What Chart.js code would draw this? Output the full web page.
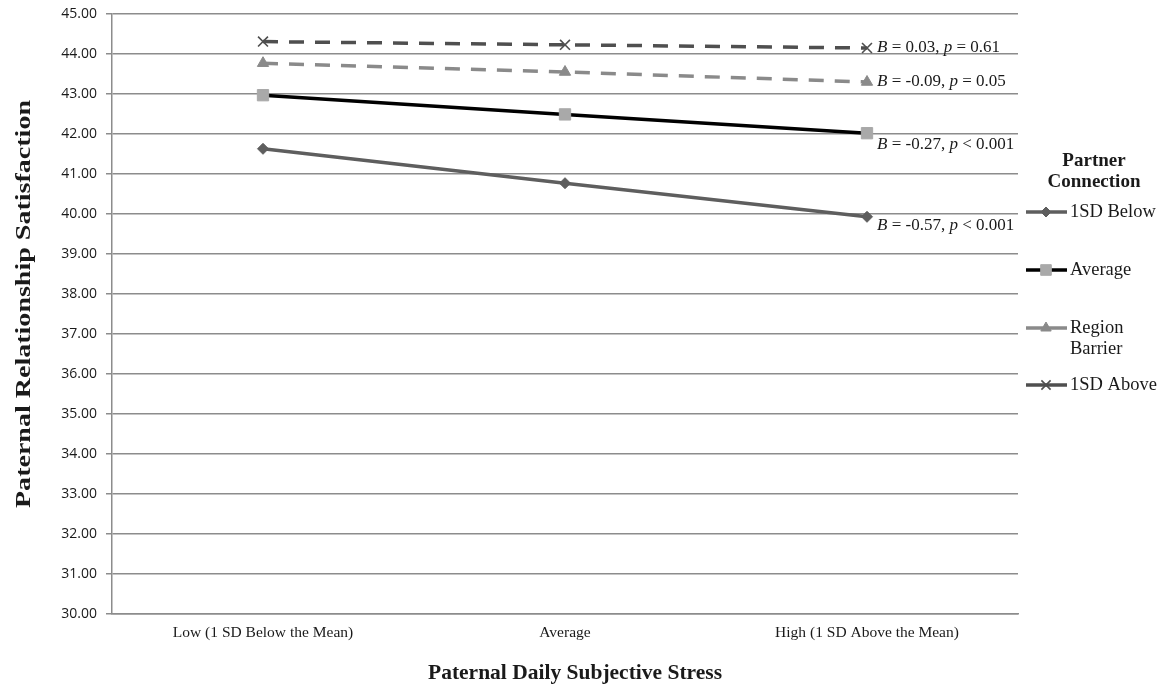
<!DOCTYPE html>
<html lang="en">
<head>
    <meta charset="UTF-8">
    <title>Paternal Relationship Satisfaction</title>
    <script src="https://cdn.jsdelivr.net/npm/chart.js"></script>
    <style>
        html, body { margin: 0; padding: 0; background: #fff; }
        #wrap { width: 1171px; height: 688px; position: relative; }
    </style>
</head>
<body>
<div id="wrap"><canvas id="chart" width="1171" height="688"></canvas></div>
<script>
    // data
    const stressLevels = ['Low (1 SD Below the Mean)', 'Average', 'High (1 SD Above the Mean)'];
    const sdBelow = [41.63, 40.77, 39.93];
    const average = [42.97, 42.49, 42.02];
    const regionBarrier = [43.77, 43.55, 43.30];
    const sdAbove = [44.31, 44.23, 44.15];
    const yTicks = [30, 31, 32, 33, 34, 35, 36, 37, 38, 39, 40, 41, 42, 43, 44, 45];
    const slopeLabels = [
        ['0.03', '= 0.61'],
        ['-0.09', '= 0.05'],
        ['-0.27', '< 0.001'],
        ['-0.57', '< 0.001']
    ];

    const serif = '"Liberation Serif", "DejaVu Serif", serif';
    const sans = '"Open Sans", "Liberation Sans", sans-serif';

    const seriesDefs = [
        { label: '1SD Below', data: sdBelow, color: '#5e5e5e', dash: [], point: 'rectRot', pointColor: '#5e5e5e', radius: 5.5 },
        { label: 'Average', data: average, color: '#000000', dash: [], point: 'rect', pointColor: '#a9a9a9', radius: 8 },
        { label: 'Region Barrier', data: regionBarrier, color: '#8a8a8a', dash: [15, 11], point: 'triangle', pointColor: '#8a8a8a', radius: 6.5 },
        { label: '1SD Above', data: sdAbove, color: '#4f4f4f', dash: [15, 11], point: 'crossRot', pointColor: '#4f4f4f', radius: 7 }
    ];

    // slope annotations next to the "High" points
    const slopePlugin = {
        id: 'slopes',
        afterDatasetsDraw(chart) {
            const ctx = chart.ctx;
            const x = chart.scales.x;
            const y = chart.scales.y;
            const order = [3, 2, 1, 0];
            const shifts = [0, 0, 11, 9];
            ctx.save();
            ctx.fillStyle = '#1a1a1a';
            ctx.textBaseline = 'middle';
            order.forEach((di, i) => {
                const ds = chart.data.datasets[di];
                const px = x.getPixelForValue(2) + 10;
                const py = y.getPixelForValue(ds.data[2]) + shifts[i];
                const parts = [
                    ['italic 17px ' + serif, 'B'],
                    ['17px ' + serif, ' = ' + slopeLabels[i][0] + ', '],
                    ['italic 17px ' + serif, 'p'],
                    ['17px ' + serif, ' ' + slopeLabels[i][1]]
                ];
                let cx = px;
                parts.forEach(p => {
                    ctx.font = p[0];
                    ctx.fillText(p[1], cx, py);
                    cx += ctx.measureText(p[1]).width;
                });
            });
            ctx.restore();
        }
    };

    // legend with line-marker-line samples, plus both axis titles
    const sidePlugin = {
        id: 'sideLegend',
        afterDraw(chart) {
            const ctx = chart.ctx;
            ctx.save();
            ctx.fillStyle = '#1a1a1a';
            ctx.textAlign = 'center';
            ctx.textBaseline = 'middle';
            ctx.font = 'bold 19px ' + serif;
            ctx.fillText('Partner', 1094, 161);
            ctx.fillText('Connection', 1094, 182);
            const rows = [212, 270, 328, 385];
            chart.data.datasets.forEach((ds, i) => {
                const yy = rows[i];
                ctx.strokeStyle = ds.borderColor;
                ctx.lineWidth = 3.5;
                ctx.setLineDash([]);
                ctx.beginPath();
                ctx.moveTo(1026, yy);
                ctx.lineTo(1067, yy);
                ctx.stroke();
                ctx.fillStyle = ds.pointBackgroundColor;
                ctx.strokeStyle = ds.pointBorderColor;
                ctx.lineWidth = ds.pointBorderWidth;
                Chart.helpers.drawPoint(ctx, {
                    pointStyle: ds.pointStyle,
                    radius: ds.pointRadius - 0.5,
                    rotation: 0,
                    borderWidth: ds.pointBorderWidth
                }, 1046, yy);
                ctx.fillStyle = '#1a1a1a';
                ctx.textAlign = 'left';
                ctx.font = '18.5px ' + serif;
                if (ds.label === 'Region Barrier') {
                    ctx.fillText('Region', 1070, yy);
                    ctx.fillText('Barrier', 1070, yy + 21);
                } else {
                    ctx.fillText(ds.label, 1070, yy);
                }
            });

            // x axis title
            ctx.textAlign = 'center';
            ctx.font = 'bold 21.5px ' + serif;
            ctx.fillText('Paternal Daily Subjective Stress', 575, 673);

            // y axis title, drawn longer as in the original
            const title = 'Paternal Relationship Satisfaction';
            ctx.font = 'bold 21px ' + serif;
            const w = ctx.measureText(title).width;
            ctx.translate(25, 304);
            ctx.rotate(-Math.PI / 2);
            ctx.scale(408 / w, 1);
            ctx.fillText(title, 0, 0);
            ctx.restore();
        }
    };

    const datasets = seriesDefs.map(s => ({
        label: s.label,
        data: s.data,
        borderColor: s.color,
        borderWidth: 3.5,
        borderDash: s.dash,
        tension: 0,
        pointStyle: s.point,
        pointRadius: s.radius,
        pointHoverRadius: s.radius,
        pointBackgroundColor: s.pointColor,
        pointBorderColor: s.pointColor,
        pointBorderWidth: s.point === 'crossRot' ? 1.6 : 1
    }));

    new Chart(document.getElementById('chart'), {
        type: 'line',
        data: { labels: stressLevels, datasets: datasets },
        options: {
            responsive: false,
            animation: false,
            layout: { padding: { left: 0, top: 14, right: 153, bottom: 0 } },
            plugins: {
                legend: { display: false },
                tooltip: { enabled: false }
            },
            scales: {
                x: {
                    offset: true,
                    grid: { display: false, drawTicks: false },
                    border: { color: '#8c8c8c', width: 1.5 },
                    ticks: { color: '#1a1a1a', padding: 10, font: { family: serif, size: 15.5 } },
                    afterFit(scale) {
                        scale.height = 74;
                        scale.paddingLeft = 0;
                        scale.paddingRight = 0;
                    }
                },
                y: {
                    min: 30,
                    max: 45,
                    afterBuildTicks(scale) { scale.ticks = yTicks.map(v => ({ value: v })); },
                    grid: { color: '#8c8c8c', lineWidth: 1.5, tickLength: 6 },
                    border: { color: '#8c8c8c', width: 1.5 },
                    ticks: {
                        color: '#1a1a1a',
                        padding: 9,
                        font: { family: sans, size: 14 },
                        callback: v => Number(v).toFixed(2)
                    },
                    afterFit(scale) {
                        scale.width = 112;
                        scale.paddingTop = 0;
                        scale.paddingBottom = 0;
                    }
                }
            }
        },
        plugins: [slopePlugin, sidePlugin]
    });
</script>
</body>
</html>
